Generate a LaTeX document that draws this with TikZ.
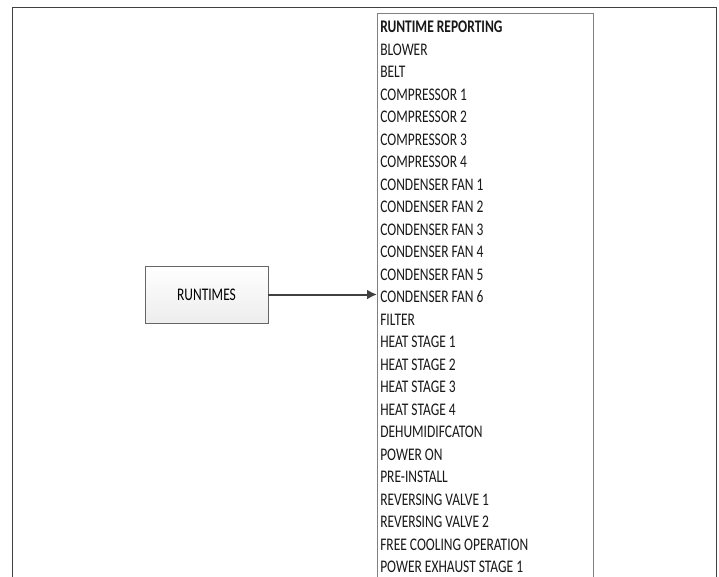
\documentclass[tikz,border=0pt]{standalone}
\usepackage{fontspec}
\setmainfont{Carlito}[FakeStretch=0.76]
\usetikzlibrary{arrows.meta}
\begin{document}
\begin{tikzpicture}[x=0.75pt,y=-0.75pt,
  frame/.style={draw=black!75,line width=1.1pt},
  listbox/.style={draw=black!50,line width=0.8pt,fill=white},
  srcbox/.style={draw=black!60,line width=0.6pt,top color=white,bottom color=black!7,minimum width=123*0.75pt,minimum height=57*0.75pt,inner sep=0pt,font=\fontsize{13.3}{15}\selectfont},
  item/.style={anchor=base west,inner sep=0pt,font=\fontsize{13.3}{15}\selectfont,text=black!90},
  conn/.style={draw=black!75,line width=1.5pt,-{Latex[length=7.5pt,width=7.5pt]}}]
\useasboundingbox (0,0) rectangle (719,576);
\clip (0,0) rectangle (719,576);
\fill[white] (0,0) rectangle (719,576);
\node[frame,inner sep=0pt,minimum width=704*0.75pt,minimum height=600*0.75pt,anchor=north west] (outer) at (12,7) {};
\node[listbox,inner sep=0pt,minimum width=216*0.75pt,minimum height=600*0.75pt,anchor=north west] (list) at (377,13) {};
\node[srcbox] (rt) at (206.5,294.5) {RUNTIMES};
\foreach \t [count=\i from 0] in {BLOWER,BELT,COMPRESSOR 1,COMPRESSOR 2,COMPRESSOR 3,COMPRESSOR 4,CONDENSER FAN 1,CONDENSER FAN 2,CONDENSER FAN 3,CONDENSER FAN 4,CONDENSER FAN 5,CONDENSER FAN 6,FILTER,HEAT STAGE 1,HEAT STAGE 2,HEAT STAGE 3,HEAT STAGE 4,DEHUMIDIFCATON,POWER ON,PRE-INSTALL,REVERSING VALVE 1,REVERSING VALVE 2,FREE COOLING OPERATION,POWER EXHAUST STAGE 1}
  \node[item] (r\i) at (380,{32.5+22.5*(\i+1)}) {\t};
\node[item,font=\fontsize{13.3}{15}\selectfont\bfseries] (head) at (380,32.5) {RUNTIME REPORTING};
\draw[conn] (rt.east) -- (list.west |- rt.east);
\end{tikzpicture}
\end{document}
